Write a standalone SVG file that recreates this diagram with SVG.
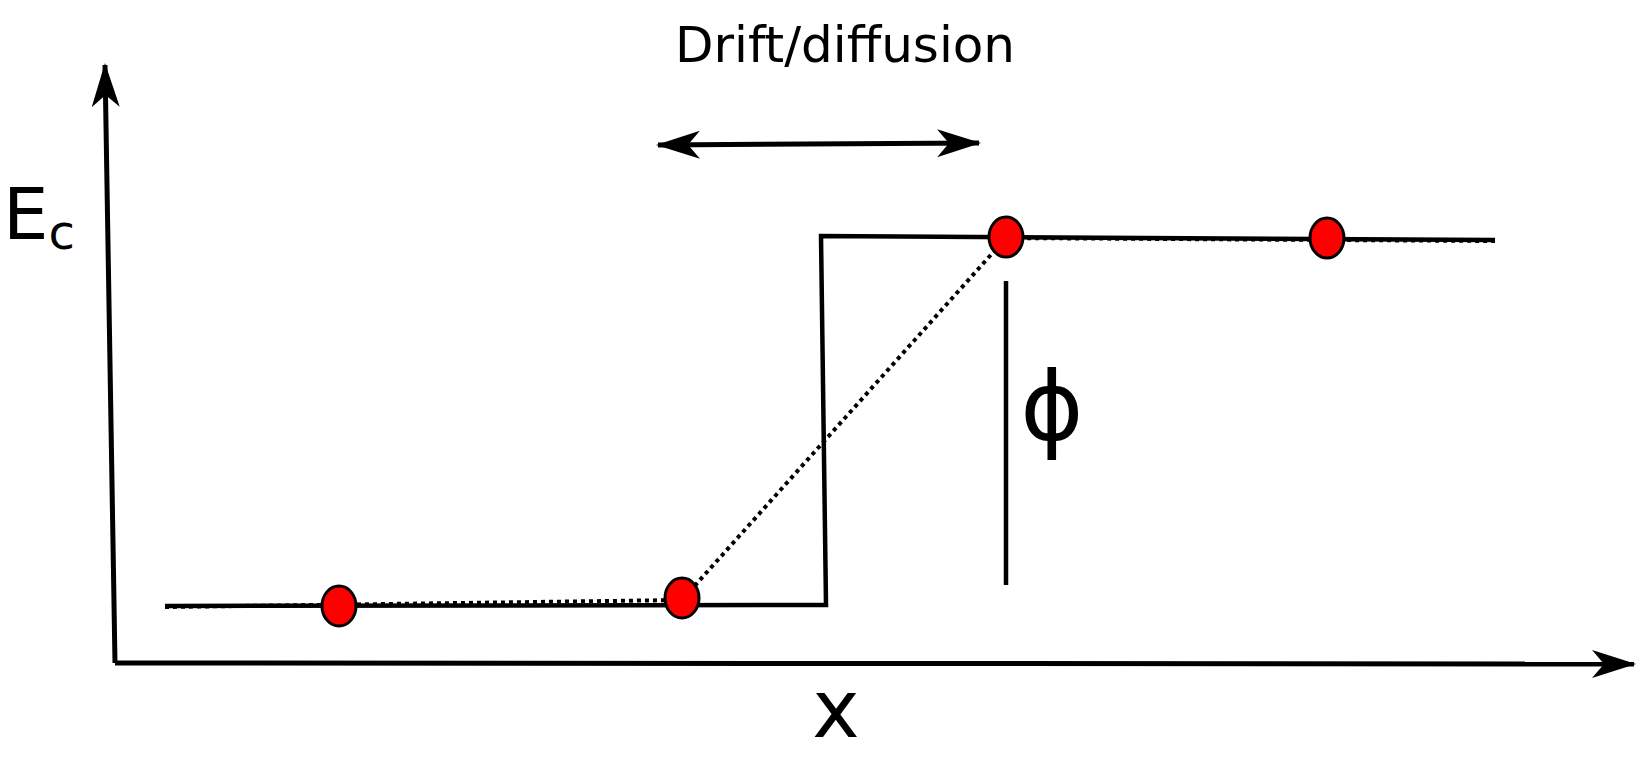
<svg xmlns="http://www.w3.org/2000/svg" width="1645" height="757" viewBox="0 0 1645 757">
<style>
.ln{fill:none;stroke:#000;stroke-width:4.5}
.ax{fill:none;stroke:#000;stroke-width:5}
.dot{fill:none;stroke:#000;stroke-width:4;stroke-dasharray:4 4}
.p{fill:#f00;stroke:#000;stroke-width:3}
text{font-family:"DejaVu Sans",sans-serif;fill:#000}
</style>
<defs>
<marker id="ah2" viewBox="0 0 44 28" refX="42" refY="14" markerWidth="44" markerHeight="28" markerUnits="userSpaceOnUse" orient="auto-start-reverse">
<path d="M0,0 L44,14 L0,28 L12,14 Z" fill="#000"/>
</marker>
</defs>
<g id="connectors">
<path class="ax" d="M115,663 L105,65" marker-end="url(#ah2)"/>
<path class="ax" d="M115,663 L1634,664" marker-end="url(#ah2)"/>
<path class="ax" d="M658,145 L979,143" marker-start="url(#ah2)" marker-end="url(#ah2)"/>
<path class="ln" d="M165,606 L826,605 L821,236 L1495,240"/>
<path class="dot" d="M165,607 L682,600 L1006,238 L1495,241"/>
<path class="ln" d="M1006,281 L1006,585"/>
</g>
<g id="particles">
<ellipse class="p" cx="339" cy="606" rx="17" ry="20"/>
<ellipse class="p" cx="682" cy="598" rx="17" ry="20"/>
<ellipse class="p" cx="1006" cy="237" rx="17" ry="20"/>
<ellipse class="p" cx="1327" cy="238" rx="17" ry="20"/>
</g>
<g id="labels">
<text x="845" y="62" font-size="50" text-anchor="middle">Drift/diffusion</text>
<text x="3" y="239" font-size="72">E<tspan font-size="48" dy="10">c</tspan></text>
<text x="1052" y="440" font-size="96" text-anchor="middle">ϕ</text>
<text x="836" y="737" font-size="80" text-anchor="middle">x</text>
</g>
</svg>
